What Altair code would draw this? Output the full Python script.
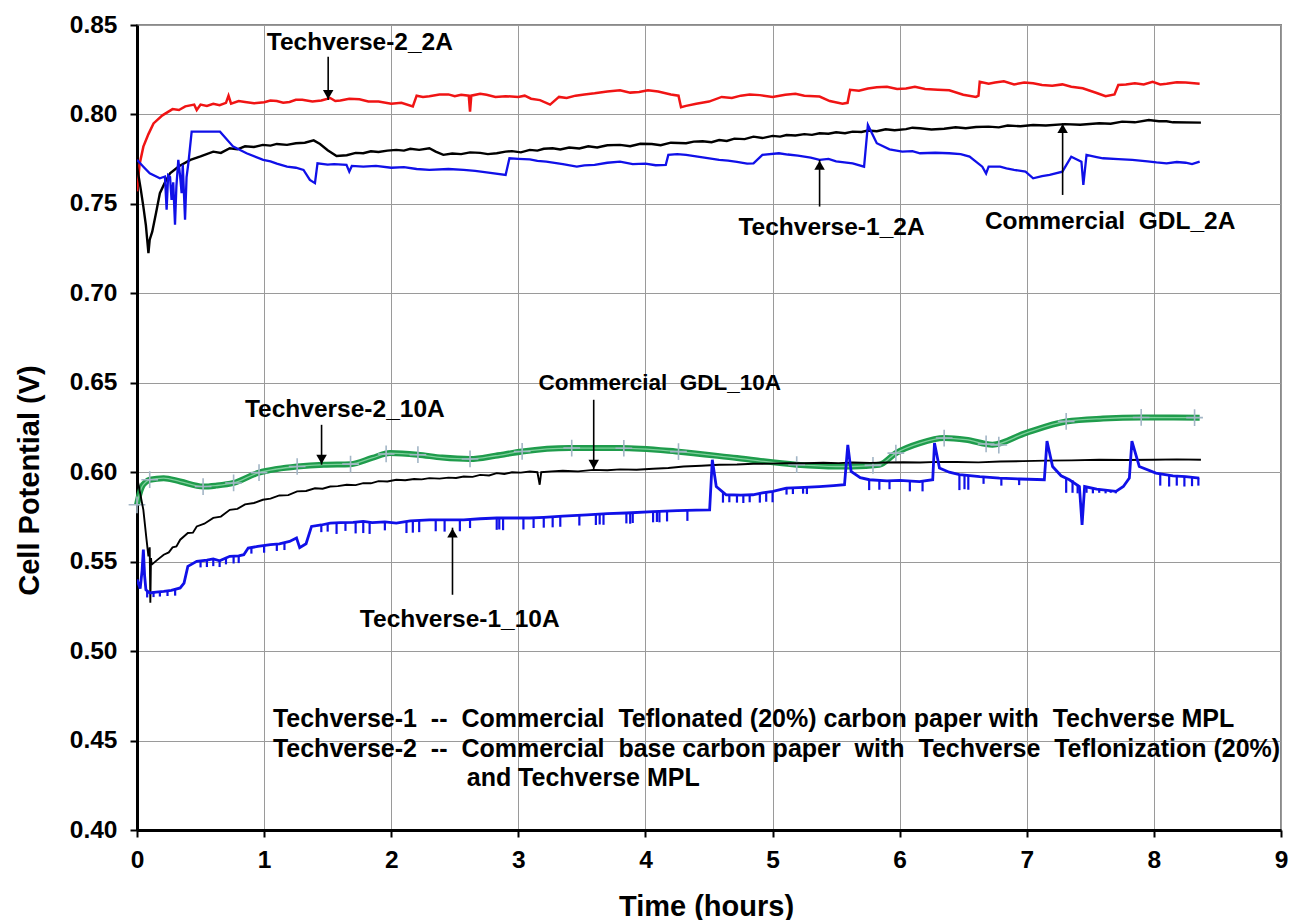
import altair as alt
import pandas as pd

FONT = "Liberation Sans"

# ---------------- series (time in hours, cell potential in V) ----------------
techverse2_2a = [
    (0.00, 0.757), (0.02, 0.772), (0.05, 0.782), (0.09, 0.789), (0.13, 0.795), (0.20, 0.7995),
    (0.28, 0.803), (0.33, 0.8025), (0.38, 0.8045), (0.45, 0.8055), (0.47, 0.8025), (0.50, 0.8055),
    (0.55, 0.8048), (0.60, 0.806), (0.65, 0.8052), (0.70, 0.8065), (0.72, 0.8105), (0.74, 0.806),
    (0.80, 0.8075), (0.85, 0.807), (0.92, 0.8062), (1.00, 0.8068), (1.05, 0.8078), (1.10, 0.8075),
    (1.15, 0.8065), (1.20, 0.807), (1.25, 0.8082), (1.30, 0.8082), (1.38, 0.8072), (1.45, 0.8078),
    (1.52, 0.8092), (1.56, 0.8075), (1.60, 0.8078), (1.67, 0.8088), (1.75, 0.8085), (1.82, 0.8072),
    (1.90, 0.8072), (2.00, 0.806), (2.08, 0.8065), (2.17, 0.8045), (2.20, 0.8105), (2.25, 0.8098),
    (2.30, 0.8102), (2.38, 0.8112), (2.45, 0.8112), (2.50, 0.8102), (2.55, 0.811), (2.61, 0.8105),
    (2.62, 0.8015), (2.63, 0.8105), (2.70, 0.8115), (2.75, 0.811), (2.82, 0.8098), (2.90, 0.8102),
    (3.00, 0.8098), (3.05, 0.8105), (3.10, 0.8088), (3.17, 0.808), (3.25, 0.8055), (3.32, 0.8098),
    (3.38, 0.8092), (3.45, 0.8105), (3.52, 0.8112), (3.60, 0.8118), (3.70, 0.8128), (3.80, 0.8135),
    (3.88, 0.8122), (3.95, 0.8125), (4.02, 0.8135), (4.10, 0.8128), (4.20, 0.8112), (4.26, 0.8105),
    (4.28, 0.804), (4.32, 0.8048), (4.40, 0.806), (4.50, 0.8072), (4.60, 0.8098), (4.68, 0.8092),
    (4.75, 0.8105), (4.82, 0.8112), (4.90, 0.8108), (5.00, 0.8098), (5.10, 0.811), (5.18, 0.8115),
    (5.25, 0.8105), (5.37, 0.810), (5.45, 0.8075), (5.55, 0.806), (5.59, 0.8065), (5.61, 0.8138),
    (5.68, 0.8132), (5.75, 0.8145), (5.82, 0.8152), (5.90, 0.8155), (5.98, 0.8142), (6.05, 0.8145),
    (6.12, 0.8155), (6.20, 0.8142), (6.30, 0.8138), (6.39, 0.8135), (6.50, 0.811), (6.60, 0.8098),
    (6.62, 0.8105), (6.63, 0.8183), (6.70, 0.8172), (6.75, 0.8178), (6.82, 0.8185), (6.90, 0.8168),
    (6.98, 0.8178), (7.05, 0.8174), (7.12, 0.8165), (7.20, 0.816), (7.28, 0.8168), (7.35, 0.8155),
    (7.44, 0.8146), (7.55, 0.812), (7.62, 0.8102), (7.69, 0.8112), (7.72, 0.8165), (7.78, 0.8168),
    (7.85, 0.8175), (7.92, 0.8168), (7.99, 0.8183), (8.05, 0.8168), (8.10, 0.8172), (8.18, 0.818),
    (8.25, 0.8178), (8.36, 0.8172),
]

commercial_2a = [
    (0.00, 0.771), (0.03, 0.758), (0.05, 0.7485), (0.07, 0.738), (0.09, 0.7224), (0.10, 0.730),
    (0.12, 0.7345), (0.15, 0.745), (0.18, 0.756), (0.22, 0.762), (0.26, 0.7671), (0.33, 0.771),
    (0.42, 0.7746), (0.50, 0.7765), (0.60, 0.7792), (0.66, 0.7785), (0.73, 0.7811), (0.79, 0.7805),
    (0.85, 0.7822), (0.92, 0.7818), (0.99, 0.783), (1.05, 0.7826), (1.10, 0.7835), (1.18, 0.783),
    (1.25, 0.7839), (1.32, 0.7842), (1.39, 0.7855), (1.44, 0.7835), (1.50, 0.780), (1.57, 0.7768),
    (1.65, 0.7772), (1.72, 0.7785), (1.78, 0.7783), (1.84, 0.7794), (1.90, 0.779), (1.97, 0.7798),
    (2.04, 0.7802), (2.10, 0.7798), (2.15, 0.7808), (2.22, 0.7802), (2.30, 0.7811), (2.35, 0.7792),
    (2.41, 0.7774), (2.48, 0.7782), (2.55, 0.7778), (2.62, 0.7788), (2.70, 0.7785), (2.76, 0.7778),
    (2.83, 0.7783), (2.90, 0.7792), (2.95, 0.7795), (3.02, 0.7788), (3.09, 0.7802), (3.15, 0.7798),
    (3.20, 0.7808), (3.27, 0.7811), (3.33, 0.7804), (3.40, 0.7815), (3.48, 0.781), (3.55, 0.7822),
    (3.62, 0.7815), (3.70, 0.7828), (3.80, 0.783), (3.88, 0.7822), (3.96, 0.7836), (4.05, 0.7835),
    (4.12, 0.7828), (4.20, 0.7842), (4.32, 0.7839), (4.38, 0.7848), (4.45, 0.785), (4.52, 0.7845),
    (4.58, 0.7857), (4.64, 0.7852), (4.70, 0.7865), (4.78, 0.7862), (4.85, 0.7876), (4.92, 0.7868),
    (5.00, 0.788), (5.06, 0.7876), (5.11, 0.7885), (5.18, 0.7882), (5.25, 0.789), (5.31, 0.7886),
    (5.37, 0.7895), (5.44, 0.7892), (5.50, 0.790), (5.57, 0.7895), (5.63, 0.7904), (5.70, 0.7902),
    (5.75, 0.791), (5.82, 0.7906), (5.89, 0.7917), (5.96, 0.7912), (6.05, 0.7918), (6.10, 0.7926),
    (6.16, 0.7923), (6.25, 0.7916), (6.35, 0.792), (6.44, 0.7928), (6.52, 0.7923), (6.60, 0.793),
    (6.70, 0.7932), (6.78, 0.7928), (6.85, 0.7938), (6.95, 0.7934), (7.05, 0.7941), (7.15, 0.7938),
    (7.30, 0.7946), (7.42, 0.7942), (7.57, 0.7951), (7.66, 0.7948), (7.75, 0.796), (7.85, 0.7956),
    (7.96, 0.7969), (8.04, 0.7962), (8.10, 0.7962), (8.15, 0.7956), (8.37, 0.7954),
]

techverse1_2a = [
    (0.00, 0.7746), (0.05, 0.7708), (0.10, 0.7671), (0.18, 0.7643), (0.22, 0.7653), (0.233, 0.7467),
    (0.245, 0.766), (0.26, 0.765), (0.272, 0.7522), (0.285, 0.762), (0.299, 0.7383), (0.31, 0.760),
    (0.325, 0.7746), (0.34, 0.765), (0.351, 0.756), (0.36, 0.772), (0.378, 0.7411), (0.39, 0.765),
    (0.404, 0.7727), (0.43, 0.7904), (0.653, 0.7904), (0.757, 0.782), (0.862, 0.7783), (0.993, 0.7746),
    (1.05, 0.7738), (1.10, 0.7725), (1.18, 0.7708), (1.25, 0.7702), (1.31, 0.769), (1.36, 0.7634),
    (1.40, 0.7616), (1.42, 0.7727), (1.50, 0.772), (1.55, 0.7722), (1.648, 0.7718), (1.67, 0.768),
    (1.69, 0.7712), (1.78, 0.7708), (1.88, 0.7712), (2.00, 0.7702), (2.10, 0.7706), (2.20, 0.7695),
    (2.30, 0.769), (2.45, 0.7695), (2.57, 0.769), (2.66, 0.7684), (2.75, 0.7676), (2.90, 0.7662),
    (2.93, 0.7755), (3.00, 0.7752), (3.09, 0.7749), (3.15, 0.774), (3.22, 0.7736), (3.35, 0.7722),
    (3.46, 0.7708), (3.52, 0.7715), (3.60, 0.7718), (3.70, 0.773), (3.80, 0.7736), (3.90, 0.7722),
    (4.00, 0.7725), (4.08, 0.7716), (4.16, 0.7718), (4.18, 0.7774), (4.25, 0.7778), (4.32, 0.7774),
    (4.45, 0.776), (4.58, 0.7746), (4.65, 0.7742), (4.72, 0.7735), (4.80, 0.7725), (4.85, 0.7727),
    (4.92, 0.7774), (5.05, 0.7783), (5.12, 0.7776), (5.20, 0.777), (5.30, 0.7758), (5.37, 0.7746),
    (5.44, 0.7752), (5.50, 0.7738), (5.63, 0.7727), (5.72, 0.7708), (5.75, 0.7941), (5.82, 0.7839),
    (5.92, 0.7805), (6.02, 0.7792), (6.10, 0.7795), (6.16, 0.7783), (6.28, 0.7786), (6.39, 0.7783),
    (6.48, 0.7778), (6.55, 0.7764), (6.65, 0.7708), (6.68, 0.767), (6.70, 0.7708), (6.79, 0.7708),
    (6.84, 0.7698), (6.90, 0.769), (6.99, 0.768), (7.05, 0.7643), (7.12, 0.7655), (7.18, 0.7662),
    (7.28, 0.768), (7.35, 0.7764), (7.43, 0.7736), (7.445, 0.7606), (7.47, 0.7774), (7.55, 0.7762),
    (7.60, 0.7755), (7.72, 0.775), (7.83, 0.7746), (7.95, 0.7738), (8.02, 0.7732), (8.10, 0.7727),
    (8.18, 0.7734), (8.25, 0.773), (8.30, 0.7722), (8.36, 0.7736),
]

techverse2_10a = [
    (0.00, 0.5818), (0.02, 0.588), (0.04, 0.592), (0.07, 0.5945), (0.10, 0.5958), (0.21, 0.5967),
    (0.34, 0.5948), (0.52, 0.592), (0.62, 0.5925), (0.76, 0.594), (0.96, 0.5998), (1.10, 0.6018),
    (1.26, 0.6032), (1.47, 0.6042), (1.68, 0.6045), (1.85, 0.608), (1.99, 0.6107), (2.21, 0.6098),
    (2.40, 0.6082), (2.62, 0.6074), (2.82, 0.6092), (3.03, 0.6116), (3.40, 0.6135), (3.80, 0.6135),
    (4.24, 0.6116), (4.72, 0.6079), (5.19, 0.6042), (5.50, 0.6032), (5.63, 0.6032), (5.84, 0.6042),
    (5.97, 0.6107), (6.16, 0.6163), (6.35, 0.6191), (6.52, 0.6182), (6.73, 0.6154), (6.99, 0.6219),
    (7.31, 0.6284), (7.60, 0.630), (7.90, 0.6306), (8.36, 0.6305),
]

techverse2_10a_markers = [
    (0.00, 0.5818), (0.10, 0.5958), (0.52, 0.592), (0.76, 0.594), (0.96, 0.5998), (1.26, 0.6032),
    (1.68, 0.6045), (1.96, 0.6102), (2.21, 0.6098), (2.62, 0.6074), (3.03, 0.6116), (3.42, 0.6135),
    (3.83, 0.6134), (4.26, 0.6115), (5.19, 0.6042), (5.79, 0.6038), (5.97, 0.6107), (6.35, 0.6191),
    (6.68, 0.6158), (6.78, 0.6152), (7.31, 0.6284), (7.90, 0.6306), (8.32, 0.6305),
]

commercial_10a = [
    (0.00, 0.5976), (0.02, 0.590), (0.05, 0.579), (0.075, 0.5623), (0.09, 0.553), (0.10, 0.558),
    (0.105, 0.527), (0.11, 0.552), (0.115, 0.5483), (0.16, 0.551), (0.21, 0.5539), (0.25, 0.5552),
    (0.28, 0.558), (0.31, 0.5585), (0.34, 0.5623), (0.40, 0.566), (0.44, 0.5662), (0.47, 0.5697),
    (0.53, 0.5712), (0.60, 0.5745), (0.66, 0.5752), (0.73, 0.579), (0.79, 0.5795), (0.85, 0.582),
    (0.92, 0.5828), (0.99, 0.5846), (1.05, 0.5852), (1.12, 0.587), (1.19, 0.5872), (1.26, 0.5893),
    (1.33, 0.5895), (1.40, 0.591), (1.46, 0.5908), (1.52, 0.592), (1.58, 0.5922), (1.65, 0.593),
    (1.72, 0.5928), (1.78, 0.5939), (1.84, 0.5938), (1.90, 0.595), (1.97, 0.5948), (2.04, 0.5958),
    (2.11, 0.5955), (2.18, 0.5962), (2.24, 0.596), (2.30, 0.5967), (2.38, 0.5964), (2.45, 0.597),
    (2.51, 0.5968), (2.57, 0.5976), (2.64, 0.5974), (2.70, 0.5985), (2.77, 0.5982), (2.83, 0.5995),
    (2.89, 0.599), (2.95, 0.600), (3.02, 0.5998), (3.09, 0.6004), (3.15, 0.600), (3.168, 0.593),
    (3.18, 0.600), (3.26, 0.6005), (3.35, 0.6008), (3.47, 0.6005), (3.59, 0.6013), (3.70, 0.6011),
    (3.80, 0.6016), (3.93, 0.6014), (4.06, 0.6019), (4.18, 0.6024), (4.30, 0.6032), (4.44, 0.6036),
    (4.58, 0.6042), (4.72, 0.6043), (4.85, 0.6047), (4.98, 0.6048), (5.11, 0.6051), (5.25, 0.605),
    (5.40, 0.6053), (5.52, 0.6051), (5.63, 0.6054), (5.77, 0.6052), (5.90, 0.6054), (6.03, 0.6056),
    (6.16, 0.6054), (6.30, 0.6058), (6.45, 0.6057), (6.62, 0.6055), (6.79, 0.606), (6.97, 0.6062),
    (7.15, 0.6065), (7.35, 0.6066), (7.57, 0.607), (7.78, 0.6068), (8.00, 0.607), (8.18, 0.6072),
    (8.37, 0.607),
]

techverse1_10a = [
    (0.00, 0.540), (0.025, 0.535), (0.04, 0.545), (0.05, 0.5567), (0.06, 0.542), (0.07, 0.5343),
    (0.10, 0.5325), (0.15, 0.533), (0.21, 0.5334), (0.27, 0.534), (0.34, 0.5353), (0.37, 0.538),
    (0.40, 0.5474), (0.47, 0.5502), (0.55, 0.5508), (0.60, 0.5515), (0.65, 0.5505), (0.73, 0.553),
    (0.80, 0.5532), (0.84, 0.5539), (0.875, 0.5576), (0.95, 0.5585), (1.05, 0.5595), (1.12, 0.560),
    (1.20, 0.5613), (1.255, 0.5632), (1.28, 0.5578), (1.33, 0.560), (1.373, 0.5697), (1.45, 0.5705),
    (1.52, 0.5716), (1.60, 0.5718), (1.70, 0.572), (1.78, 0.5725), (1.85, 0.5718), (1.95, 0.5722),
    (2.04, 0.5716), (2.15, 0.5728), (2.30, 0.5734), (2.45, 0.5734), (2.57, 0.5734), (2.70, 0.574),
    (2.83, 0.5744), (2.95, 0.5744), (3.09, 0.5744), (3.20, 0.5748), (3.35, 0.5755), (3.54, 0.5762),
    (3.70, 0.5768), (3.85, 0.5772), (4.06, 0.578), (4.25, 0.5785), (4.40, 0.5788), (4.505, 0.579),
    (4.526, 0.607), (4.557, 0.592), (4.635, 0.5874), (4.75, 0.5872), (4.845, 0.5874), (4.92, 0.5885),
    (5.003, 0.5893), (5.108, 0.5911), (5.25, 0.5915), (5.369, 0.592), (5.48, 0.5925), (5.566, 0.593),
    (5.592, 0.6153), (5.618, 0.6004), (5.69, 0.597), (5.762, 0.5958), (5.90, 0.5952), (6.00, 0.5954),
    (6.156, 0.5948), (6.26, 0.5958), (6.274, 0.6163), (6.313, 0.6023), (6.39, 0.600), (6.47, 0.5986),
    (6.63, 0.5975), (6.785, 0.5967), (6.95, 0.5962), (7.138, 0.5958), (7.159, 0.6174), (7.203, 0.6032),
    (7.27, 0.598), (7.335, 0.5958), (7.414, 0.592), (7.435, 0.5706), (7.455, 0.592), (7.55, 0.5905),
    (7.702, 0.5893), (7.76, 0.592), (7.807, 0.5967), (7.827, 0.6174), (7.885, 0.6032), (8.016, 0.5995),
    (8.15, 0.598), (8.25, 0.5975), (8.357, 0.5967),
]

# short downward dropouts of the Techverse-1_10A trace: (time, top, bottom)
techverse1_10a_dips = [
    (0.08, 0.534, 0.530), (0.13, 0.5335, 0.5302), (0.18, 0.5335, 0.5305), (0.24, 0.5338, 0.5308),
    (0.30, 0.5345, 0.531), (0.50, 0.5505, 0.5468), (0.55, 0.5508, 0.547), (0.60, 0.5515, 0.5475),
    (0.65, 0.5505, 0.547), (0.70, 0.5525, 0.5485), (0.76, 0.553, 0.549), (0.80, 0.5532, 0.5492),
    (0.90, 0.558, 0.5545), (1.00, 0.559, 0.555), (1.10, 0.560, 0.556), (1.16, 0.5605, 0.5565),
    (1.45, 0.5705, 0.5665), (1.50, 0.5712, 0.5668), (1.57, 0.5718, 0.5655), (1.64, 0.5719, 0.5672),
    (1.72, 0.572, 0.5658), (1.78, 0.5725, 0.566), (1.83, 0.572, 0.5655), (1.95, 0.5722, 0.5675),
    (2.12, 0.5727, 0.566), (2.17, 0.5728, 0.5662), (2.22, 0.573, 0.5665), (2.35, 0.5734, 0.567),
    (2.42, 0.5734, 0.5668), (2.54, 0.5734, 0.567), (2.62, 0.5736, 0.5688), (2.83, 0.5744, 0.5678),
    (2.85, 0.5744, 0.568), (2.88, 0.5744, 0.5676), (3.04, 0.5744, 0.568), (3.12, 0.5746, 0.5688),
    (3.20, 0.5748, 0.569), (3.27, 0.5752, 0.5692), (3.33, 0.5755, 0.5695), (3.48, 0.576, 0.5702),
    (3.61, 0.5764, 0.5705), (3.64, 0.5765, 0.5708), (3.67, 0.5766, 0.5706), (3.85, 0.5772, 0.5714),
    (3.88, 0.5772, 0.5712), (3.90, 0.5773, 0.5716), (4.06, 0.578, 0.572), (4.09, 0.578, 0.5722),
    (4.11, 0.5781, 0.572), (4.17, 0.5783, 0.5725), (4.33, 0.5786, 0.5728), (4.61, 0.5885, 0.583),
    (4.66, 0.5874, 0.5832), (4.72, 0.5872, 0.583), (4.77, 0.5872, 0.5828), (4.82, 0.5874, 0.5832),
    (4.90, 0.588, 0.583), (4.95, 0.5887, 0.5835), (5.00, 0.5892, 0.5832), (5.11, 0.5911, 0.5875),
    (5.16, 0.5912, 0.5878), (5.24, 0.5915, 0.588), (5.27, 0.5916, 0.5878), (5.76, 0.5958, 0.590),
    (5.84, 0.5955, 0.5902), (5.92, 0.5952, 0.5905), (6.08, 0.5952, 0.5893), (6.18, 0.595, 0.5893),
    (6.47, 0.5986, 0.590), (6.51, 0.5984, 0.5905), (6.54, 0.5982, 0.5902), (6.66, 0.5975, 0.5935),
    (6.80, 0.5967, 0.5925), (6.94, 0.5962, 0.5928), (7.31, 0.5965, 0.5885), (7.36, 0.5955, 0.5885),
    (7.40, 0.593, 0.5882), (7.47, 0.5915, 0.5885), (7.52, 0.591, 0.5882), (7.57, 0.5905, 0.5885),
    (7.62, 0.590, 0.5882), (7.66, 0.5897, 0.5885), (7.70, 0.5893, 0.5882), (8.05, 0.5992, 0.5925),
    (8.12, 0.5985, 0.592), (8.18, 0.598, 0.5925), (8.24, 0.5976, 0.592), (8.30, 0.5972, 0.5922),
    (8.35, 0.5968, 0.5925),
]

# ---------------- annotations ----------------
label_texts = ["Techverse-2_2A", "Techverse-1_2A", "Commercial\u00a0 GDL_2A",
               "Techverse-2_10A", "Commercial\u00a0 GDL_10A", "Techverse-1_10A"]
label_t = [1.753, 5.464, 7.656, 1.635, 4.112, 2.539]
label_v = [0.840, 0.7366, 0.7401, 0.6349, 0.650, 0.5176]
label_size = [24.5, 24.5, 24.5, 24.5, 22.5, 24.5]

# arrows: x, start, tip, head centre, head direction
arrow_t = [1.504, 5.37, 7.282, 1.452, 3.593, 2.482]
arrow_from = [0.8323, 0.7485, 0.755, 0.6265, 0.6405, 0.5315]
arrow_to = [0.8081, 0.7746, 0.7951, 0.6042, 0.6014, 0.569]
arrow_head = [0.8111, 0.7716, 0.7921, 0.6072, 0.6044, 0.566]
arrow_dir = ["down", "up", "up", "down", "down", "up"]

note_lines = [
    "Techverse-1\u00a0 --\u00a0 Commercial\u00a0 Teflonated (20%) carbon paper with\u00a0 Techverse MPL",
    "Techverse-2\u00a0 --\u00a0 Commercial\u00a0 base carbon paper\u00a0 with\u00a0 Techverse\u00a0 Teflonization (20%)",
    "and Techverse MPL",
]
note_t = [1.069, 1.069, 2.594]
note_v = [0.462, 0.4455, 0.429]

x_ticks = [0, 1, 2, 3, 4, 5, 6, 7, 8, 9]
y_ticks = [0.40, 0.45, 0.50, 0.55, 0.60, 0.65, 0.70, 0.75, 0.80, 0.85]

# ---------------- chart ----------------
def frame(pairs):
    return pd.DataFrame(pairs, columns=["t", "v"])

xs = alt.Scale(domain=[0, 9], nice=False, zero=False)
ys = alt.Scale(domain=[0.40, 0.85], nice=False, zero=False)

x_axis = alt.Axis(
    values=x_ticks, title="Time (hours)", grid=True, gridColor="#9a9a9a", gridWidth=1,
    domainColor="black", domainWidth=3, tickColor="black", tickWidth=2, tickSize=7,
    labelFont=FONT, labelFontSize=24.5, labelFontWeight="bold", labelColor="black",
    labelPadding=11, labelFlush=False, labelOverlap=False,
    titleFont=FONT, titleFontSize=29, titleFontWeight="bold", titleColor="black",
    titleX=569, titleY=76, titleAlign="center", titleBaseline="middle",
)
y_axis = alt.Axis(
    values=y_ticks, format=".2f", title="Cell Potential (V)", grid=True, gridColor="#9a9a9a",
    gridWidth=1, domainColor="black", domainWidth=3, tickColor="black", tickWidth=2, tickSize=7,
    labelFont=FONT, labelFontSize=24.5, labelFontWeight="bold", labelColor="black",
    labelPadding=13, labelFlush=False, labelOverlap=False,
    titleFont=FONT, titleFontSize=29, titleFontWeight="bold", titleColor="black",
    titleX=-108, titleY=455, titleAlign="center", titleBaseline="middle", titleAngle=270,
)

X = alt.X("t:Q", scale=xs, axis=x_axis)
Y = alt.Y("v:Q", scale=ys, axis=y_axis)


def line(pairs, color, width):
    return alt.Chart(frame(pairs)).mark_line(color=color, strokeWidth=width, clip=True).encode(
        x=X, y=Y, order="t:Q")


green_outer = alt.Chart(frame(techverse2_10a)).mark_line(
    color="#1f9c4c", strokeWidth=6, interpolate="monotone").encode(x=X, y=Y)
green_inner = alt.Chart(frame(techverse2_10a)).mark_line(
    color="#7fcf9c", strokeWidth=1.3, interpolate="monotone").encode(x=X, y=Y)
green_marks = alt.Chart(frame(techverse2_10a_markers)).mark_point(
    shape="M-1,0L1,0M0,-1L0,1", size=280, color="#a3b6c6", strokeWidth=1.6, filled=False,
    opacity=1).encode(x=X, y=Y)

dips_df = pd.DataFrame(techverse1_10a_dips, columns=["t", "v", "v2"])
dips = alt.Chart(dips_df).mark_rule(color="#1010e8", strokeWidth=2.2).encode(
    x=X, y=Y, y2="v2:Q")

arrow_df = pd.DataFrame({"t": arrow_t, "v": arrow_from, "v2": arrow_to,
                         "head": arrow_head, "dir": arrow_dir})
arrow_lines = alt.Chart(arrow_df).mark_rule(color="black", strokeWidth=1.6).encode(
    x=X, y=Y, y2="v2:Q")
heads_down = alt.Chart(arrow_df[arrow_df["dir"] == "down"]).mark_point(
    shape="triangle-down", size=110, filled=True, color="black", opacity=1).encode(
    x=X, y=alt.Y("head:Q", scale=ys, axis=y_axis))
heads_up = alt.Chart(arrow_df[arrow_df["dir"] == "up"]).mark_point(
    shape="triangle-up", size=110, filled=True, color="black", opacity=1).encode(
    x=X, y=alt.Y("head:Q", scale=ys, axis=y_axis))

labels_df = pd.DataFrame({"t": label_t, "v": label_v, "label": label_texts, "size": label_size})
labels = alt.Chart(labels_df).mark_text(
    font=FONT, fontWeight="bold", color="black", align="center",
    baseline="middle").encode(x=X, y=Y, text="label:N",
                              size=alt.Size("size:Q", scale=None, legend=None))

notes_df = pd.DataFrame({"t": note_t, "v": note_v, "label": note_lines})
notes = alt.Chart(notes_df).mark_text(
    font=FONT, fontSize=25, fontWeight="bold", color="black", align="left",
    baseline="middle").encode(x=X, y=Y, text="label:N")

chart = alt.layer(
    green_outer, green_inner, green_marks,
    line(commercial_10a, "black", 1.9),
    line(techverse1_10a, "#1010e8", 2.8), dips,
    line(techverse2_2a, "#f01414", 2.5),
    line(commercial_2a, "black", 2.4),
    line(techverse1_2a, "#1010e8", 2.3),
    arrow_lines, heads_down, heads_up, labels, notes,
).properties(
    width=1144, height=805,
    padding={"left": 137, "top": 25, "right": 8, "bottom": 90},
    autosize=alt.AutoSizeParams(type="none"),
    background="white",
).configure_view(stroke="#8a8a8a", strokeWidth=2)

chart.save("out.html", embed_options={"renderer": "svg", "actions": False})
